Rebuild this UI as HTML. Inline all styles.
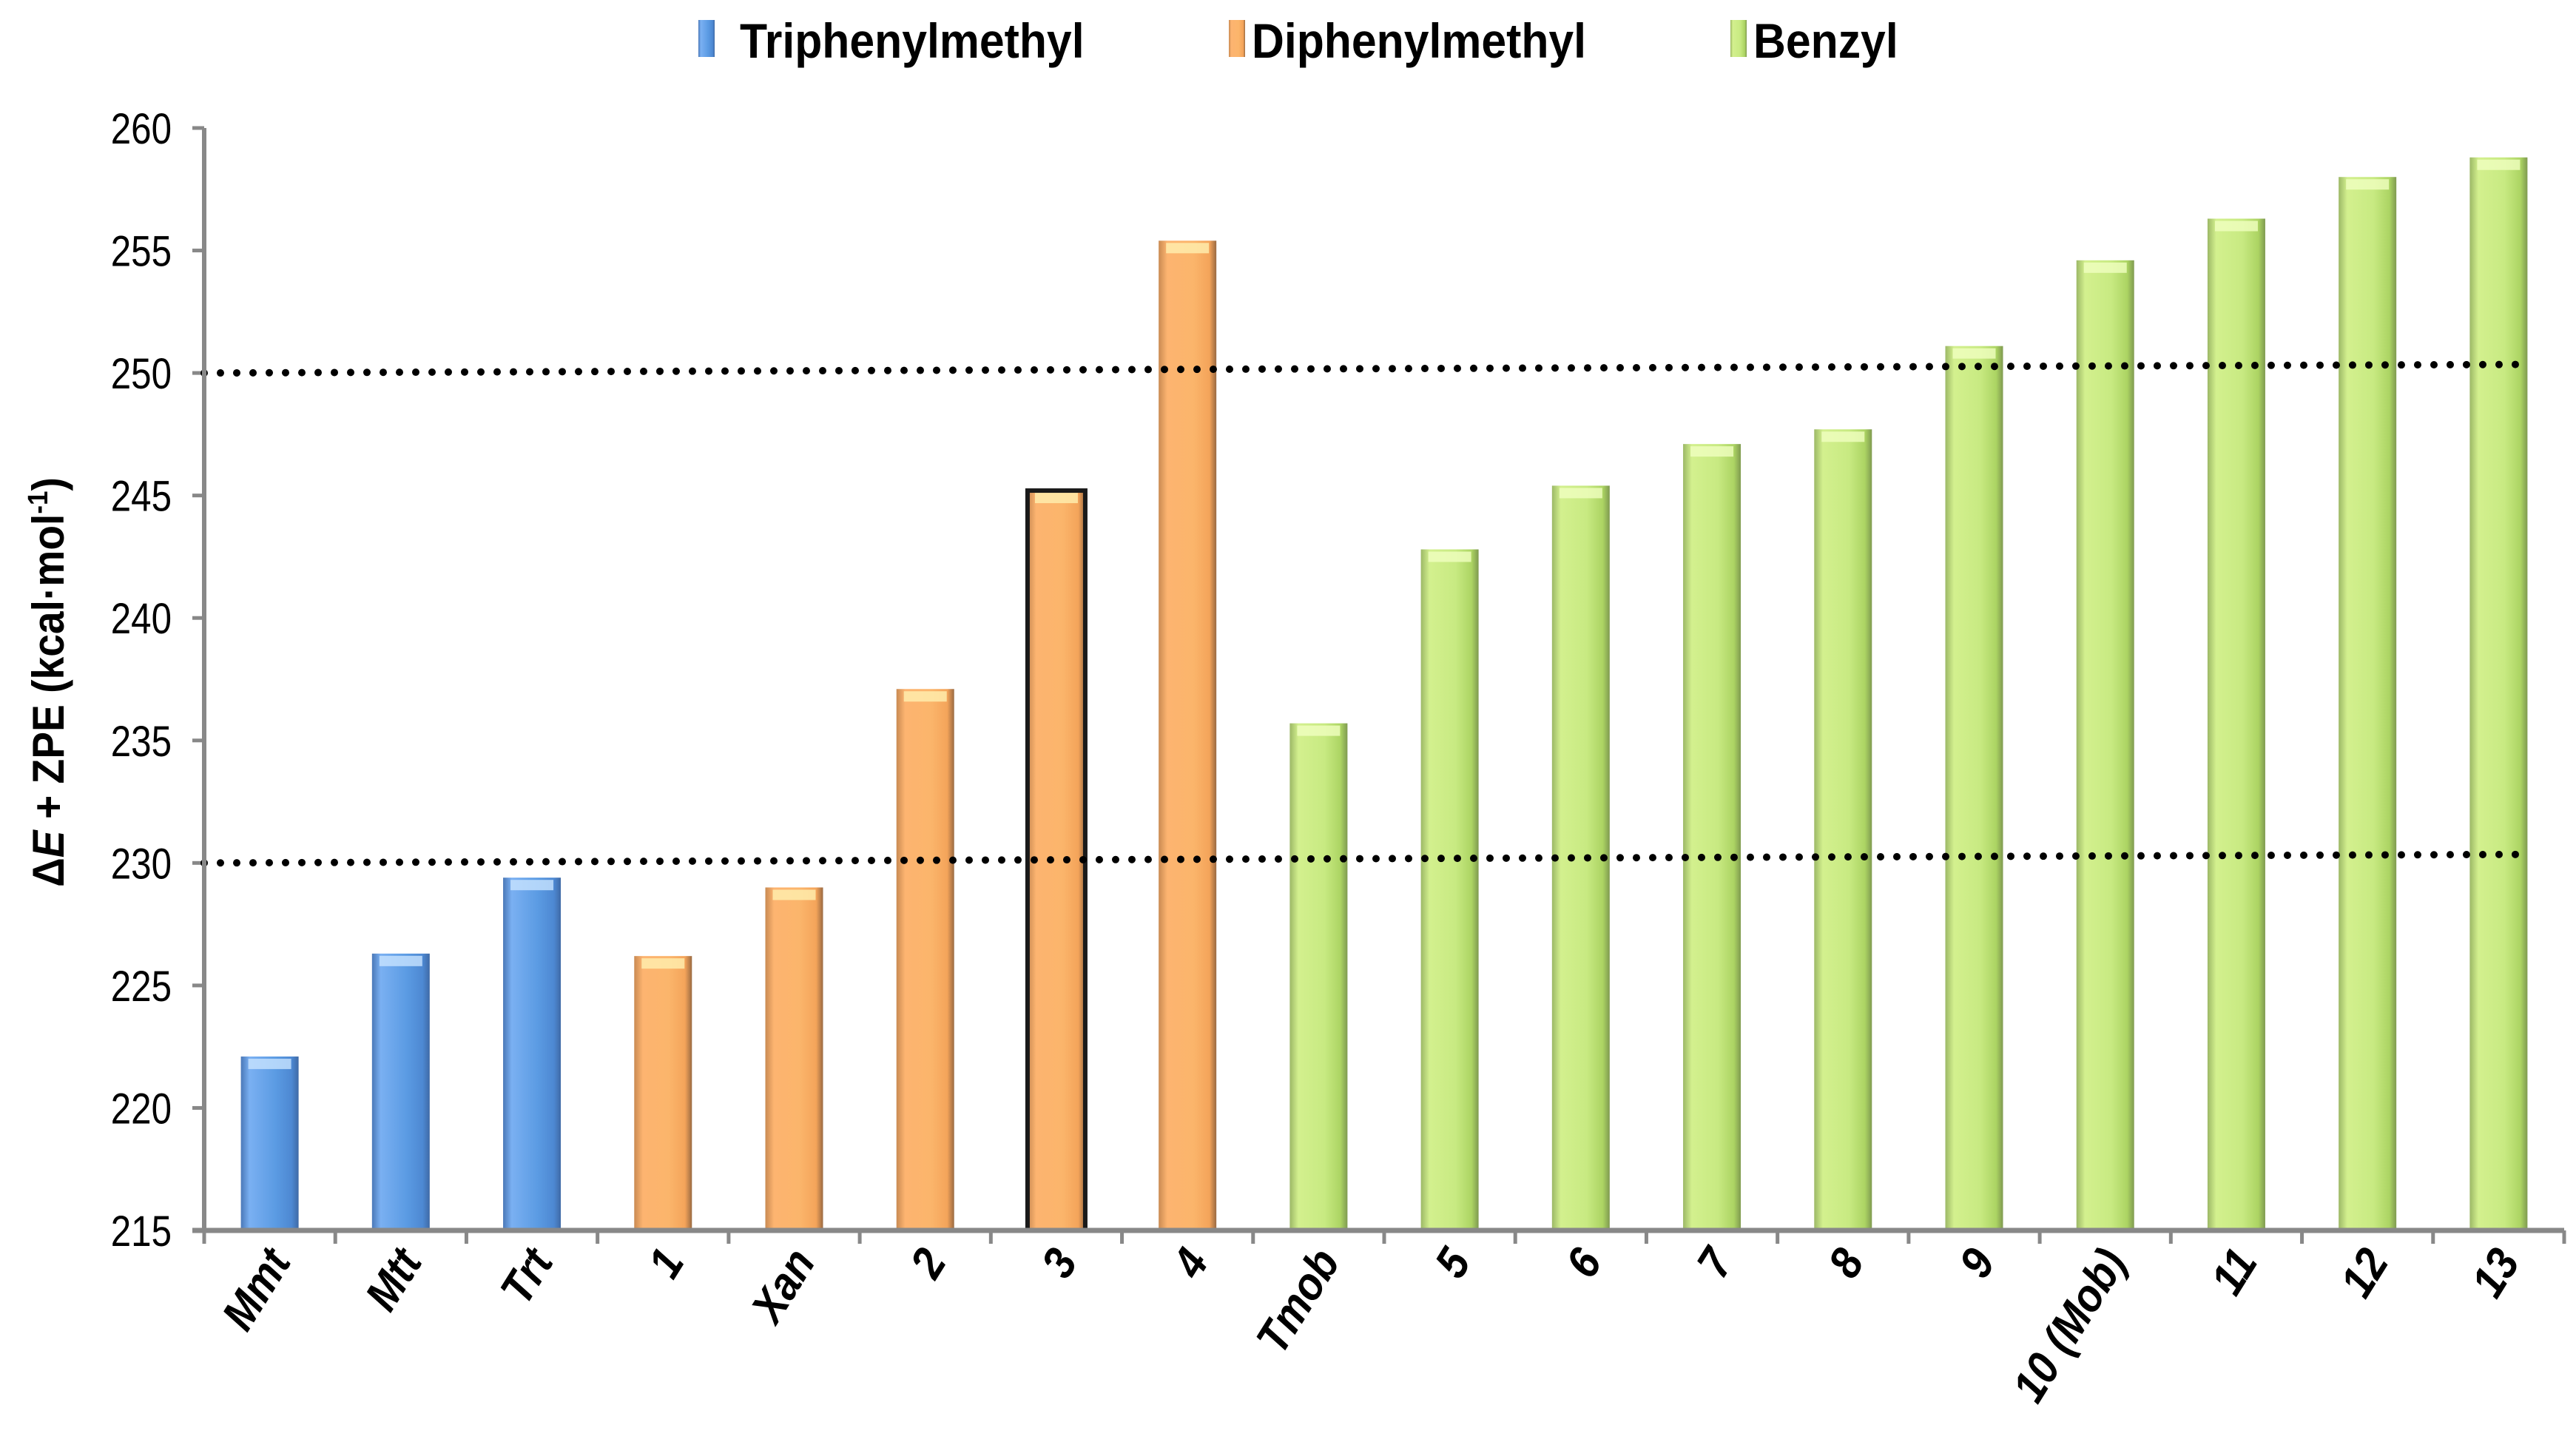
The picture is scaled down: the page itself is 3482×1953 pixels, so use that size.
<!DOCTYPE html>
<html><head><meta charset="utf-8"><style>
html,body{margin:0;padding:0;background:#fff;}
svg{display:block;font-family:"Liberation Sans",sans-serif;}
</style></head><body>
<svg id="chart" width="3482" height="1953" viewBox="0 0 3482 1953" xmlns="http://www.w3.org/2000/svg">
<defs>
<linearGradient id="gBlue" x1="0" x2="1" y1="0" y2="0"><stop offset="0" stop-color="#4a78b8"/><stop offset="0.15" stop-color="#7ab0f2"/><stop offset="0.6" stop-color="#5b9be3"/><stop offset="0.88" stop-color="#4d88d2"/><stop offset="1" stop-color="#3f6aa6"/></linearGradient>
<linearGradient id="gOrange" x1="0" x2="1" y1="0" y2="0"><stop offset="0" stop-color="#c98a52"/><stop offset="0.15" stop-color="#fdb470"/><stop offset="0.6" stop-color="#fbb56b"/><stop offset="0.88" stop-color="#f4a45a"/><stop offset="1" stop-color="#9a6a42"/></linearGradient>
<linearGradient id="gGreen" x1="0" x2="1" y1="0" y2="0"><stop offset="0" stop-color="#9cb866"/><stop offset="0.15" stop-color="#d3f08e"/><stop offset="0.6" stop-color="#c8ea82"/><stop offset="0.88" stop-color="#acd463"/><stop offset="1" stop-color="#7f9a50"/></linearGradient>
</defs>
<g id="legend">
 <g><rect x="944" y="27" width="22" height="50" fill="url(#gBlue)"/><text x="1000" y="78" font-size="66" font-weight="bold" transform="translate(1000,0) scale(0.92,1) translate(-1000,0)">Triphenylmethyl</text></g>
 <g><rect x="1661" y="27" width="22" height="50" fill="url(#gOrange)"/><text x="1692" y="78" font-size="66" font-weight="bold" transform="translate(1692,0) scale(0.92,1) translate(-1692,0)">Diphenylmethyl</text></g>
 <g><rect x="2339" y="27" width="22" height="50" fill="url(#gGreen)"/><text x="2370" y="78" font-size="66" font-weight="bold" transform="translate(2370,0) scale(0.92,1) translate(-2370,0)">Benzyl</text></g>
</g>
<text transform="translate(86,922) rotate(-90) scale(0.92,1)" text-anchor="middle" font-size="60" font-weight="bold">Δ<tspan font-style="italic">E</tspan> + ZPE (kcal·mol<tspan font-size="38" dy="-22">-1</tspan><tspan dy="22">)</tspan></text>
<g id="yaxis"></g>
<g id="bars"></g>
<g id="refs"></g>
<g id="xaxis"></g>
</svg>
<script>
const categories = ["Mmt","Mtt","Trt","1","Xan","2","3","4","Tmob","5","6","7","8","9","10 (Mob)","11","12","13"];
const values = [222.1,226.3,229.4,226.2,229.0,237.1,245.2,255.4,235.7,242.8,245.4,247.1,247.7,251.1,254.6,256.3,258.0,258.8];
const groups = ["blue","blue","blue","orange","orange","orange","orange","orange","green","green","green","green","green","green","green","green","green","green"];
const yTicks = [215,220,225,230,235,240,245,250,255,260];
const refLeft = [250,230];
const refRight = [250.35,230.35];
const highlighted = ["3"];

const NS="http://www.w3.org/2000/svg";
const X0=276, X1=3466, Y0=1663, Y1=173, VMIN=215, VMAX=260;
const band=(X1-X0)/categories.length;
const y=v=>Y0-(v-VMIN)/(VMAX-VMIN)*(Y0-Y1);
const xc=i=>X0+band*(i+0.5);
function mk(tag,attrs,parent){const e=document.createElementNS(NS,tag);for(const k in attrs)e.setAttribute(k,attrs[k]);parent.appendChild(e);return e;}
const yaxis=document.getElementById('yaxis'),bars=document.getElementById('bars'),refs=document.getElementById('refs'),xaxis=document.getElementById('xaxis');
yTicks.forEach(t=>{
  const tk=mk('line',{x1:X0-16,x2:X0,y1:y(t),y2:y(t),stroke:'#888','stroke-width':5},yaxis);
  
  
  const lb=mk('text',{transform:`translate(232,${y(t)+21}) scale(0.85,1)`,'text-anchor':'end','font-size':58},yaxis);
  lb.textContent=t;
  
  
});
const fills={blue:'url(#gBlue)',orange:'url(#gOrange)',green:'url(#gGreen)'};
const caps={blue:'#c8e4ff',orange:'#fff0b0',green:'#f0ffc0'};
const bw=78;
values.forEach((v,i)=>{
  const g=mk('g',{},bars);
  
  
  const top=y(v);
  mk('rect',{x:xc(i)-bw/2,y:top,width:bw,height:Y0-top,fill:fills[groups[i]]},g);
  mk('rect',{x:xc(i)-bw/2+10,y:top+3,width:bw-20,height:14,fill:caps[groups[i]],opacity:0.8},g);
  if(highlighted.includes(categories[i])) mk('rect',{x:xc(i)-bw/2,y:top,width:bw,height:Y0-top,fill:'none',stroke:'#1a1a1a','stroke-width':6},g);
});
refLeft.forEach((v,k)=>{
  const l=mk('line',{x1:X0,x2:3420,y1:y(v),y2:y(refRight[k]),stroke:'#000','stroke-width':10,'stroke-dasharray':'0 22','stroke-linecap':'round'},refs);
  
  
});
mk('line',{x1:X0,x2:X0,y1:Y1,y2:Y0+3,stroke:'#888','stroke-width':6},xaxis);
mk('line',{x1:X0-16,x2:X1,y1:Y0,y2:Y0,stroke:'#888','stroke-width':7},xaxis);
categories.forEach((c,i)=>{
  mk('line',{x1:X0+band*i,x2:X0+band*i,y1:Y0,y2:Y0+18,stroke:'#888','stroke-width':5},xaxis);
  const t=mk('text',{transform:`translate(${xc(i)+30},1705) rotate(-58) scale(0.9,1)`,'text-anchor':'end','font-size':62,'font-weight':'bold','font-style':'italic'},xaxis);
  t.textContent=c;
  
  
});
mk('line',{x1:X1,x2:X1,y1:Y0,y2:Y0+18,stroke:'#888','stroke-width':5},xaxis);
</script>
</body></html>
